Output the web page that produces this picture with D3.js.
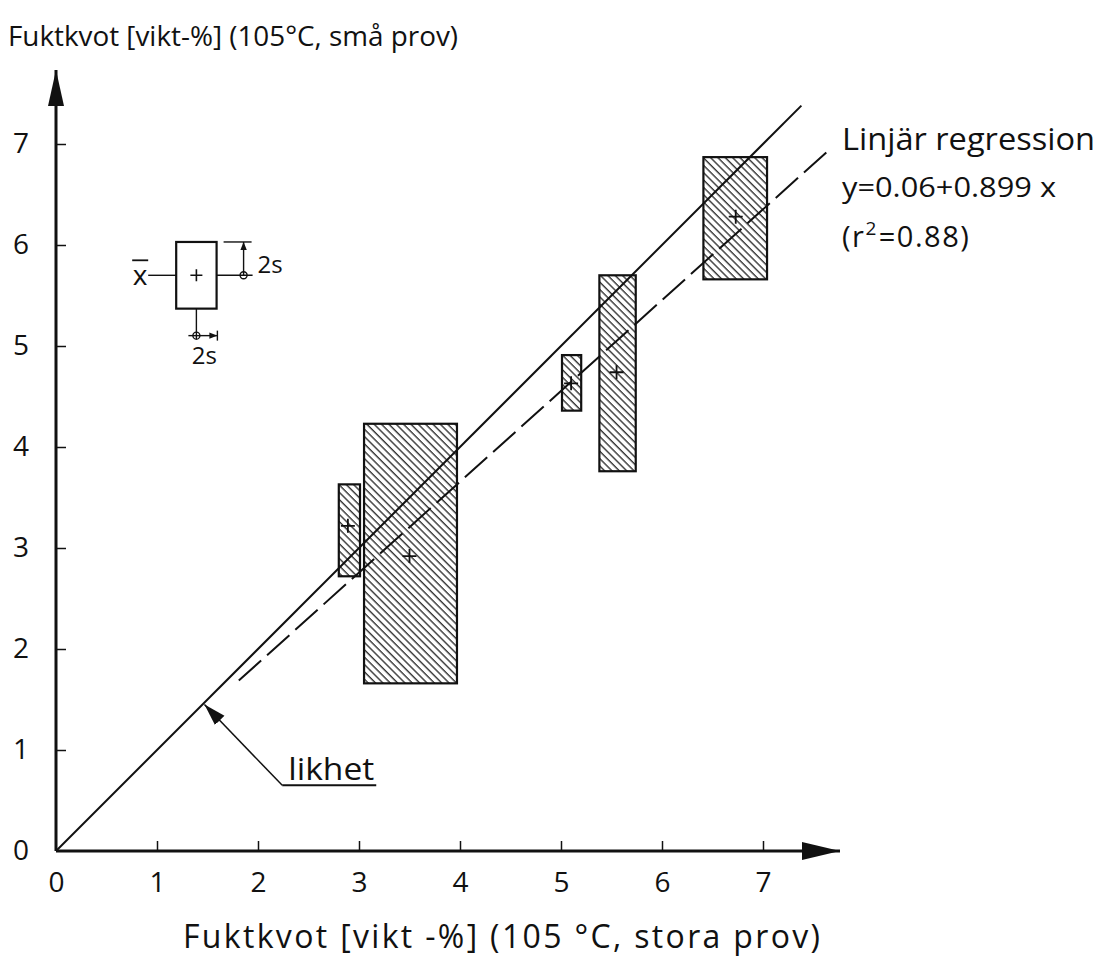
<!DOCTYPE html>
<html>
<head>
<meta charset="utf-8">
<script src="https://cdn.jsdelivr.net/npm/d3@7"></script>
<style>
  body { margin: 0; background: #fff; }
  svg text { font-family: "Open Sans", "DejaVu Sans", sans-serif; fill: #111; }
</style>
</head>
<body>
<svg id="chart" width="1109" height="973"></svg>
<script>
// tick values for both axes
var tickVals = [0, 1, 2, 3, 4, 5, 6, 7];

// boxes: x range, y range (mean +/- 2s) and the mean (cross)
var boxXLo = [2.80, 3.05, 5.01, 5.38, 6.41];
var boxXHi = [3.01, 3.97, 5.20, 5.74, 7.04];
var boxYLo = [2.72, 1.66, 4.36, 3.76, 5.66];
var boxYHi = [3.63, 4.23, 4.91, 5.70, 6.87];
var meanX  = [2.89, 3.50, 5.10, 5.55, 6.73];
var meanY  = [3.22, 2.92, 4.63, 4.74, 6.28];

// regression line y = a + b x, drawn from xStart to xEnd
var regA = 0.06, regB = 0.899;
var regRange = [1.81, 7.63];
// equality line y = x
var eqRange = [0, 7.38];

var yTitle = "Fuktkvot [vikt-%] (105°C, små prov)";
var xTitle = "Fuktkvot [vikt -%] (105 °C, stora prov)";
var regLabel = ["Linjär regression", "y=0.06+0.899 x"];

var svg = d3.select("#chart");
var ink = "#111";

var x = d3.scaleLinear().domain([0, 7]).range([56, 763]);
var y = d3.scaleLinear().domain([0, 7]).range([851, 144]);

// hatch pattern
var defs = svg.append("defs");
defs.append("pattern")
    .attr("id", "hatch")
    .attr("patternUnits", "userSpaceOnUse")
    .attr("width", 5.2).attr("height", 10)
    .attr("patternTransform", "rotate(-45)")
    .append("line")
    .attr("x1", 1).attr("y1", 0).attr("x2", 1).attr("y2", 10)
    .attr("stroke", ink).attr("stroke-width", 1.2);

defs.append("marker")
    .attr("id", "arrowHead")
    .attr("viewBox", "0 0 10 10")
    .attr("refX", 10).attr("refY", 5)
    .attr("markerWidth", 8).attr("markerHeight", 8)
    .attr("markerUnits", "userSpaceOnUse")
    .attr("orient", "auto")
    .append("path").attr("d", "M0,1 L10,5 L0,9 Z").attr("fill", ink);

defs.append("marker")
    .attr("id", "bigHead")
    .attr("viewBox", "0 0 10 10")
    .attr("refX", 10).attr("refY", 5)
    .attr("markerWidth", 22).attr("markerHeight", 22)
    .attr("markerUnits", "userSpaceOnUse")
    .attr("orient", "auto")
    .append("path").attr("d", "M0,2 L10,5 L0,8 Z").attr("fill", ink);

// axes lines with arrows
svg.append("line")
    .attr("x1", x(0)).attr("y1", y(0)).attr("x2", 840).attr("y2", y(0))
    .attr("stroke", ink).attr("stroke-width", 3);
svg.append("path")
    .attr("d", "M840," + y(0) + " l-38,-9 l0,18 Z").attr("fill", ink);
svg.append("line")
    .attr("x1", x(0)).attr("y1", y(0)).attr("x2", x(0)).attr("y2", 70)
    .attr("stroke", ink).attr("stroke-width", 3);
svg.append("path")
    .attr("d", "M" + x(0) + ",70 l-8,36 l16,0 Z").attr("fill", ink);

var gx = svg.append("g")
    .attr("transform", "translate(0," + y(0) + ")")
    .call(d3.axisBottom(x).tickValues(tickVals).tickFormat(d3.format("d"))
        .tickSize(-10).tickPadding(21));
var gy = svg.append("g")
    .attr("transform", "translate(" + x(0) + ",0)")
    .call(d3.axisLeft(y).tickValues(tickVals).tickFormat(d3.format("d"))
        .tickSize(-10).tickPadding(27));
[gx, gy].forEach(function(g) {
    g.select(".domain").remove();
    g.selectAll(".tick line").attr("stroke", ink).attr("stroke-width", 1.5);
    g.selectAll(".tick text").attr("font-size", 28).attr("fill", ink);
});
gx.selectAll(".tick").filter(function(d) { return d === 0; }).select("line").remove();
gy.selectAll(".tick").filter(function(d) { return d === 0; }).select("line").remove();

// boxes
var boxes = d3.range(boxXLo.length);
svg.append("g").selectAll("rect")
    .data(boxes).enter()
    .append("rect")
    .attr("x", function(i) { return x(boxXLo[i]); })
    .attr("y", function(i) { return y(boxYHi[i]); })
    .attr("width", function(i) { return x(boxXHi[i]) - x(boxXLo[i]); })
    .attr("height", function(i) { return y(boxYLo[i]) - y(boxYHi[i]); })
    .attr("fill", "url(#hatch)")
    .attr("stroke", ink).attr("stroke-width", 2.2);

// equality line
svg.append("line")
    .attr("x1", x(eqRange[0])).attr("y1", y(eqRange[0]))
    .attr("x2", x(eqRange[1])).attr("y2", y(eqRange[1]))
    .attr("stroke", ink).attr("stroke-width", 2);

// regression line (dashed)
var regLine = d3.line()
    .x(function(d) { return x(d); })
    .y(function(d) { return y(regA + regB * d); });
svg.append("path")
    .attr("d", regLine(regRange))
    .attr("fill", "none")
    .attr("stroke", ink).attr("stroke-width", 2)
    .attr("stroke-dasharray", "30,8");

// mean crosses
var crossGroup = svg.append("g");
boxes.forEach(function(i) {
    var cx = x(meanX[i]), cy = y(meanY[i]);
    crossGroup.append("path")
        .attr("d", "M" + (cx - 7) + "," + cy + "h14M" + cx + "," + (cy - 7) + "v14")
        .attr("stroke", ink).attr("stroke-width", 1.8);
});

// legend schematic
var lg = { x0: 1.19, x1: 1.59, y0: 5.37, y1: 6.03, mx: 1.39, my: 5.70 };
var lx0 = x(lg.x0), lx1 = x(lg.x1), ly0 = y(lg.y1), ly1 = y(lg.y0);
var lcx = x(lg.mx), lcy = y(lg.my);
var leg = svg.append("g").attr("stroke", ink).attr("fill", "none");
leg.append("rect")
    .attr("x", lx0).attr("y", ly0).attr("width", lx1 - lx0).attr("height", ly1 - ly0)
    .attr("stroke-width", 2.2).attr("fill", "#fff");
leg.append("path")
    .attr("d", "M" + (lcx - 6) + "," + lcy + "h12M" + lcx + "," + (lcy - 6) + "v12")
    .attr("stroke-width", 1.6);
leg.append("line")
    .attr("x1", lx0 - 28).attr("y1", lcy).attr("x2", lx0).attr("y2", lcy)
    .attr("stroke-width", 1.4);
// right side: vertical 2s
var rcx = lx1 + 27;
leg.append("line")
    .attr("x1", lx1).attr("y1", lcy).attr("x2", rcx + 9).attr("y2", lcy)
    .attr("stroke-width", 1.4);
leg.append("line")
    .attr("x1", lx1 + 7).attr("y1", ly0).attr("x2", rcx + 8).attr("y2", ly0)
    .attr("stroke-width", 1.4);
leg.append("line")
    .attr("x1", rcx).attr("y1", lcy).attr("x2", rcx).attr("y2", ly0)
    .attr("stroke-width", 1.4)
    .attr("marker-end", "url(#arrowHead)");
leg.append("circle")
    .attr("cx", rcx).attr("cy", lcy).attr("r", 3.5).attr("stroke-width", 1.4);
// bottom: horizontal 2s
var bcy = ly1 + 27;
leg.append("line")
    .attr("x1", lcx).attr("y1", ly1).attr("x2", lcx).attr("y2", bcy + 4)
    .attr("stroke-width", 1.4);
leg.append("line")
    .attr("x1", lcx - 8).attr("y1", bcy).attr("x2", lcx + 21).attr("y2", bcy)
    .attr("stroke-width", 1.4)
    .attr("marker-end", "url(#arrowHead)");
leg.append("line")
    .attr("x1", lcx + 21).attr("y1", bcy - 5).attr("x2", lcx + 21).attr("y2", bcy + 5)
    .attr("stroke-width", 1.4);
leg.append("circle")
    .attr("cx", lcx).attr("cy", bcy).attr("r", 3.5).attr("stroke-width", 1.4);
svg.append("text")
    .attr("x", lx0 - 36).attr("y", lcy + 10)
    .attr("text-anchor", "middle").attr("font-size", 28)
    .text("x");
svg.append("line")
    .attr("x1", lx0 - 44).attr("y1", lcy - 15).attr("x2", lx0 - 28).attr("y2", lcy - 15)
    .attr("stroke", ink).attr("stroke-width", 1.8);
svg.append("text")
    .attr("x", rcx + 14).attr("y", lcy - 2)
    .attr("font-size", 24)
    .text("2s");
svg.append("text")
    .attr("x", lcx + 8).attr("y", bcy + 28)
    .attr("text-anchor", "middle").attr("font-size", 24)
    .text("2s");

// "likhet" annotation
var tipX = 1.46, labX = 2.24, labY = 0.65;
svg.append("line")
    .attr("x1", x(labX)).attr("y1", y(labY))
    .attr("x2", x(tipX) + 1).attr("y2", y(tipX) + 1)
    .attr("stroke", ink).attr("stroke-width", 1.5)
    .attr("marker-end", "url(#bigHead)");
svg.append("line")
    .attr("x1", x(labX)).attr("y1", y(labY))
    .attr("x2", x(labX) + 94).attr("y2", y(labY))
    .attr("stroke", ink).attr("stroke-width", 2);
svg.append("text")
    .attr("x", x(labX) + 6).attr("y", y(labY) - 5)
    .attr("font-size", 31)
    .attr("textLength", 86)
    .attr("lengthAdjust", "spacingAndGlyphs")
    .text("likhet");

// regression label
svg.append("text")
    .attr("x", 842).attr("y", 150)
    .attr("font-size", 31)
    .attr("textLength", 253)
    .attr("lengthAdjust", "spacingAndGlyphs")
    .text(regLabel[0]);
svg.append("text")
    .attr("x", 842).attr("y", 197)
    .attr("font-size", 28)
    .attr("textLength", 214)
    .attr("lengthAdjust", "spacingAndGlyphs")
    .text(regLabel[1]);
var r2 = svg.append("text")
    .attr("x", 842).attr("y", 247)
    .attr("font-size", 29)
    .attr("letter-spacing", 1.5);
r2.append("tspan").text("(r");
r2.append("tspan").attr("dy", -12).attr("font-size", 19).text("2");
r2.append("tspan").attr("dy", 12).attr("dx", 1).text("=0.88)");

// axis titles
svg.append("text")
    .attr("x", 8).attr("y", 46)
    .attr("font-size", 28)
    .attr("textLength", 450)
    .attr("lengthAdjust", "spacingAndGlyphs")
    .text(yTitle);
svg.append("text")
    .attr("x", 183).attr("y", 948)
    .attr("font-size", 32)
    .attr("textLength", 637)
    .text(xTitle);
</script>
</body>
</html>
